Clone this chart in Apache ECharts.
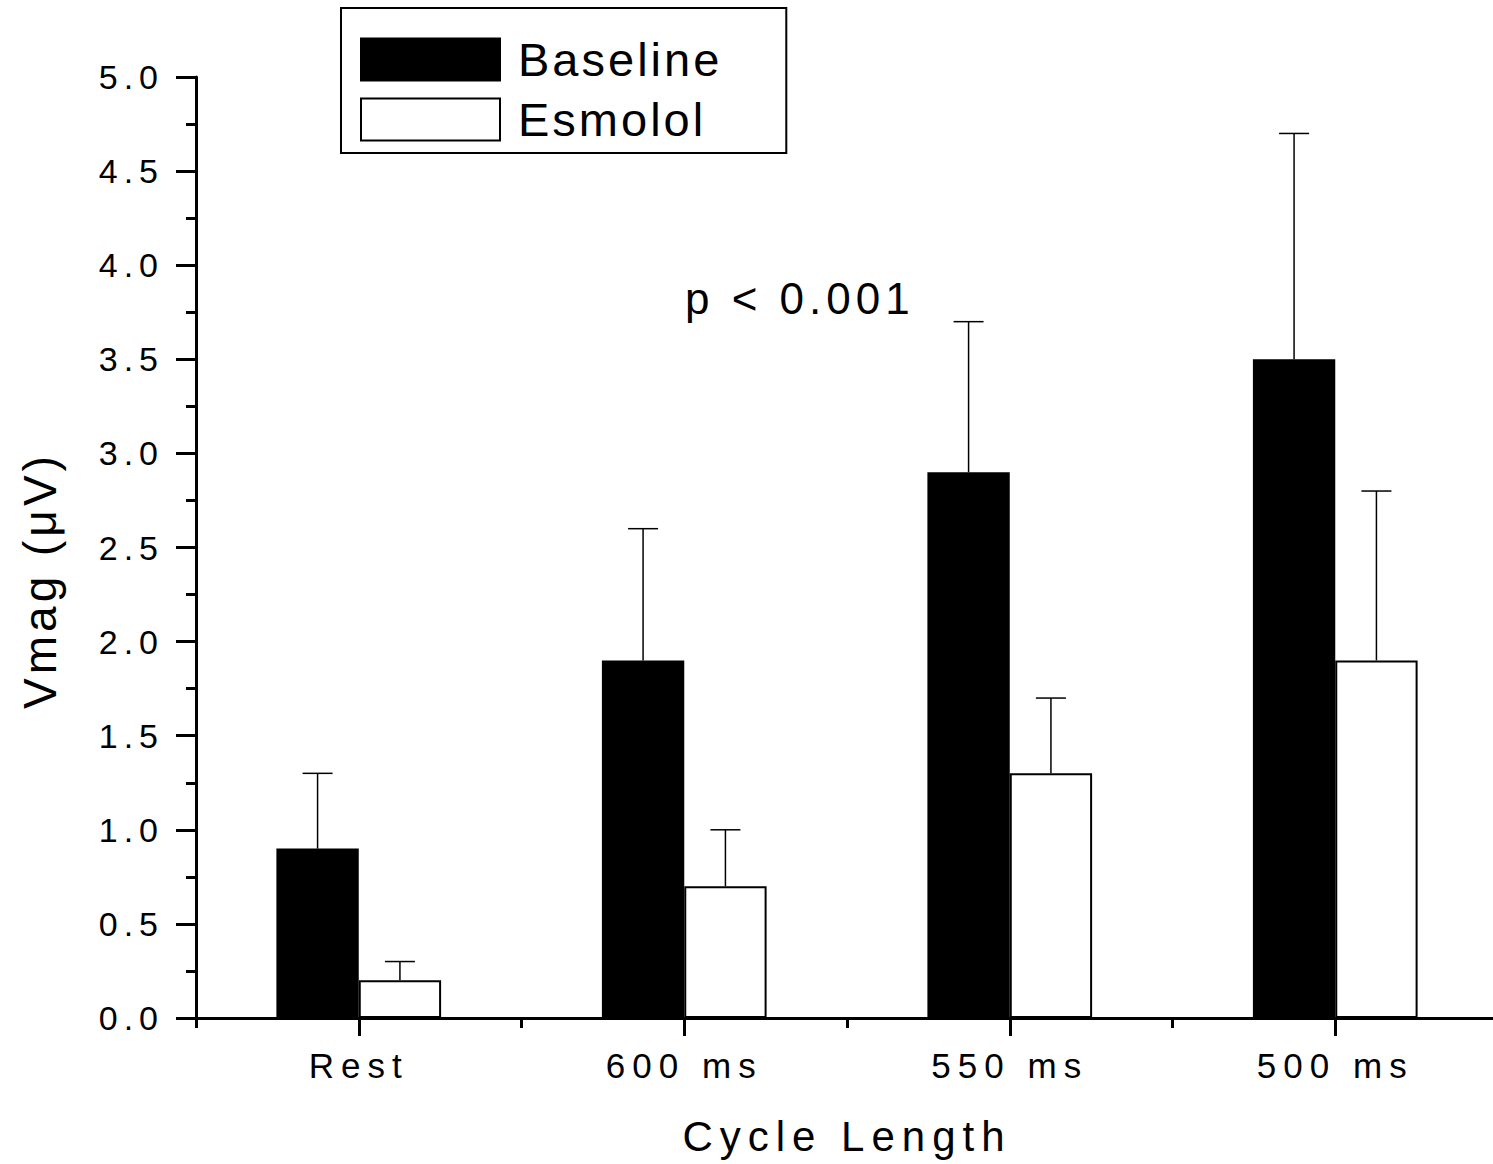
<!DOCTYPE html>
<html>
<head>
<meta charset="utf-8">
<script src="https://cdn.jsdelivr.net/npm/echarts@6/dist/echarts.min.js"></script>
<style>
  html, body { margin: 0; padding: 0; background: #fff; }
  /* the original figure uses slightly spaced lettering */
  #main text[style*="34px"] { letter-spacing: 6px; }
  #main text[style*="35px"] { letter-spacing: 7px; }
  #main text[style*="42px"] { letter-spacing: 7px; }
  #main text[style*="44px"] { letter-spacing: 5px; }
  #main text[style*="46px"] { letter-spacing: 4px; }
  #main text[style*="47px"] { letter-spacing: 3px; }
</style>
</head>
<body>

<div id="main" style="width: 1493px;height:1164px;"></div>

<script type="text/javascript">
    // data
    var categories = ['Rest', '600 ms', '550 ms', '500 ms'];
    var baseline = [0.9, 1.9, 2.9, 3.5];
    var esmolol = [0.2, 0.7, 1.3, 1.9];
    // upper error bar length (SD)
    var baselineErr = [0.4, 0.7, 0.8, 1.2];
    var esmololErr = [0.1, 0.3, 0.4, 0.9];
    var yTicks = [0, 0.5, 1.0, 1.5, 2.0, 2.5, 3.0, 3.5, 4.0, 4.5, 5.0];

    var font = 'Liberation Sans, Arial, sans-serif';

    var myChart = echarts.init(document.getElementById('main'), null, { renderer: 'svg' });

    // error bar drawn above each bar, offset is the bar's centre inside the category
    function errorBar(values, errs, side) {
        return function (params, api) {
            var i = params.dataIndex;
            var catW = api.size([1, 0])[0];
            var base = api.coord([i, values[i]]);
            var top = api.coord([i, values[i] + errs[i]]);
            var x = base[0] + side * catW * 0.1265;
            var half = 15;
            var st = { stroke: '#000', lineWidth: 1.5 };
            return {
                type: 'group',
                children: [
                    { type: 'line', shape: { x1: x, y1: base[1], x2: x, y2: top[1] }, style: st },
                    { type: 'line', shape: { x1: x - half, y1: top[1], x2: x + half, y2: top[1] }, style: st }
                ]
            };
        };
    }

    var option = {
        animation: false,
        backgroundColor: '#fff',
        grid: { left: 196, top: 77, width: 1302, height: 941, containLabel: false, outerBoundsMode: 'none' },
        legend: {
            orient: 'vertical',
            left: 341, top: 8,
            data: ['Baseline', 'Esmolol'],
            icon: 'rect',
            itemWidth: 139, itemHeight: 42, itemGap: 13,
            padding: [28, 88, 10, 19],
            borderColor: '#000', borderWidth: 2,
            textStyle: { fontFamily: font, fontSize: 47, color: '#000', padding: [0, 0, 0, 13] }
        },
        xAxis: [{
            type: 'category',
            data: categories,
            position: 'bottom',
            axisLine: { lineStyle: { color: '#000', width: 3 } },
            axisTick: { show: true, length: 10, lineStyle: { color: '#000', width: 3 } },
            axisLabel: { show: false },
            name: 'Cycle Length',
            nameLocation: 'middle',
            nameGap: 97,
            nameTextStyle: { fontFamily: font, fontSize: 42, color: '#000' }
        }, {
            type: 'category',
            data: categories,
            position: 'bottom',
            gridIndex: 0,
            axisLine: { show: false },
            axisTick: { show: true, alignWithLabel: true, length: 18, lineStyle: { color: '#000', width: 3 } },
            axisLabel: { fontFamily: font, fontSize: 35, color: '#000', margin: 30 }
        }],
        yAxis: {
            type: 'value',
            min: 0, max: 5, interval: 0.5,
            axisLine: { show: true, lineStyle: { color: '#000', width: 3 } },
            axisTick: { show: true, length: 20, lineStyle: { color: '#000', width: 3 } },
            minorTick: { show: true, splitNumber: 2, length: 10, lineStyle: { color: '#000', width: 3 } },
            splitLine: { show: false },
            axisLabel: {
                fontFamily: font, fontSize: 34, color: '#000', margin: 32,
                formatter: function (v) { return yTicks.indexOf(v) >= 0 ? v.toFixed(1) : ''; }
            },
            name: 'Vmag (\u03bcV)',
            nameLocation: 'middle',
            nameGap: 133,
            nameTextStyle: { fontFamily: font, fontSize: 46, color: '#000', padding: [0, 66, 0, 0] }
        },
        graphic: [{
            type: 'text',
            left: 685, top: 276,
            style: { text: 'p < 0.001', fontFamily: font, fontSize: 44, fill: '#000' }
        }],
        series: [{
            name: 'Baseline',
            type: 'bar',
            data: baseline,
            barWidth: '25.3%',
            barGap: '0%',
            itemStyle: { color: '#000', borderColor: '#000', borderWidth: 2 }
        }, {
            name: 'Esmolol',
            type: 'bar',
            data: esmolol,
            barWidth: '25.3%',
            itemStyle: { color: '#fff', borderColor: '#000', borderWidth: 2 }
        }, {
            type: 'custom',
            renderItem: errorBar(baseline, baselineErr, -1),
            data: baseline,
            z: 5
        }, {
            type: 'custom',
            renderItem: errorBar(esmolol, esmololErr, 1),
            data: esmolol,
            z: 5
        }]
    };

    myChart.setOption(option);
</script>

</body>
</html>
